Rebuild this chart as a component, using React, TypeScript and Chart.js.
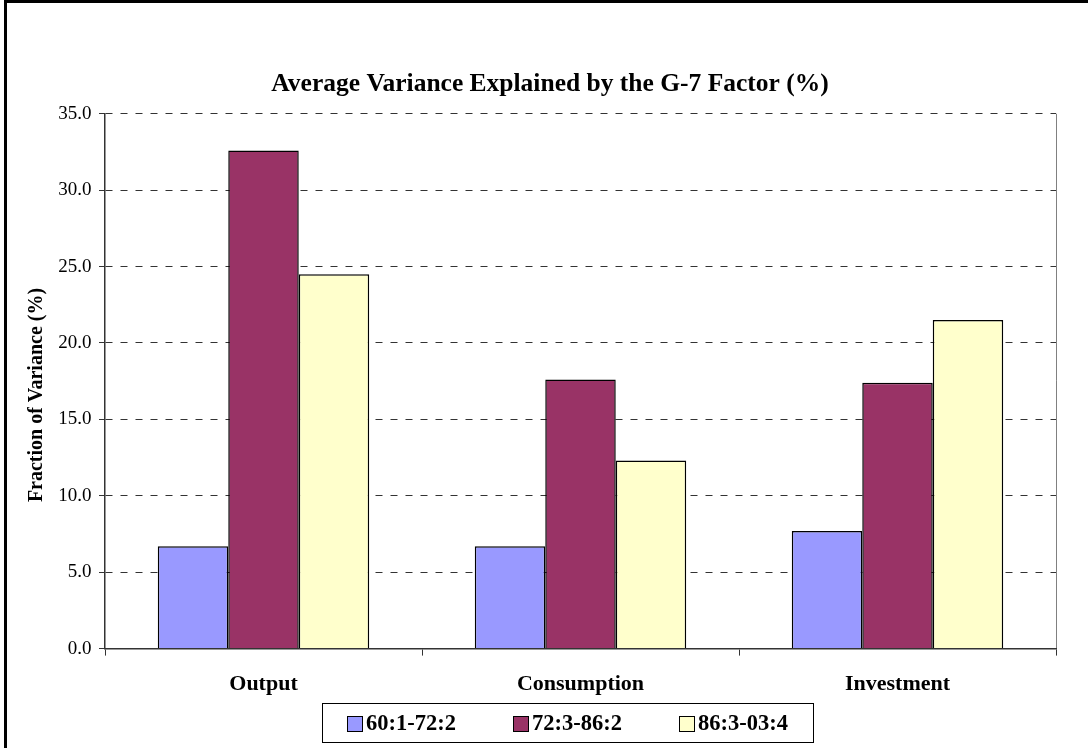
import React, { useEffect, useRef } from "react";
import { Chart, registerables } from "chart.js";

Chart.register(...registerables);

const categories = ["Output", "Consumption", "Investment"];
const seriesLabels = ["60:1-72:2", "72:3-86:2", "86:3-03:4"];
const series1 = [6.7, 6.7, 7.7];
const series2 = [32.6, 17.6, 17.4];
const series3 = [24.5, 12.3, 21.5];
const seriesColors = ["#9999FF", "#993366", "#FFFFCC"];
const chartTitle = "Average Variance Explained by the G-7 Factor (%)";
const yAxisTitle = "Fraction of Variance (%)";
const yMin = 0;
const yMax = 35;
const yStep = 5;

const FONT = "'Liberation Serif', 'Times New Roman', serif";

const decorPlugin = {
  id: "decor",
  beforeDraw(chart: any) {
    const ctx = chart.ctx;
    ctx.save();
    ctx.fillStyle = "#fff";
    ctx.fillRect(0, 0, chart.width, chart.height);
    ctx.fillStyle = "#000";
    ctx.fillRect(4, 0, 3, chart.height);
    ctx.fillRect(4, 0, chart.width - 4, 3);
    ctx.restore();
  },
  afterDraw(chart: any) {
    const ctx = chart.ctx;
    // chart title
    ctx.save();
    ctx.font = `bold 25.5px ${FONT}`;
    ctx.fillStyle = "#000";
    ctx.textAlign = "center";
    ctx.textBaseline = "middle";
    ctx.fillText(chartTitle, 550, 84);
    ctx.restore();

    // y axis title
    ctx.save();
    ctx.translate(37, 395);
    ctx.rotate(-Math.PI / 2);
    ctx.font = `bold 20px ${FONT}`;
    ctx.fillStyle = "#000";
    ctx.textAlign = "center";
    ctx.textBaseline = "middle";
    ctx.fillText(yAxisTitle, 0, 0);
    ctx.restore();

    // legend
    ctx.save();
    ctx.strokeStyle = "#000";
    ctx.lineWidth = 1;
    ctx.strokeRect(322.5, 703.5, 491, 39);
    const xs = [347, 513, 679];
    chart.data.datasets.forEach((ds: any, i: number) => {
      ctx.fillStyle = ds.backgroundColor;
      ctx.fillRect(xs[i], 716, 15, 15);
      ctx.strokeStyle = "#000";
      ctx.strokeRect(xs[i] + 0.5, 716.5, 15, 15);
      ctx.fillStyle = "#000";
      ctx.font = `bold 22.5px ${FONT}`;
      ctx.textAlign = "left";
      ctx.textBaseline = "middle";
      ctx.fillText(ds.label, xs[i] + 19, 724);
    });
    ctx.restore();
  },
};

function App() {
  const ref = useRef<HTMLCanvasElement>(null);
  useEffect(() => {
    if (!ref.current) return;
    const chart = new Chart(ref.current, {
      type: "bar",
      data: {
        labels: categories,
        datasets: [series1, series2, series3].map((d, i) => ({
          label: seriesLabels[i],
          data: d,
          backgroundColor: seriesColors[i],
          borderColor: "#000",
          borderWidth: 1.5,
          barPercentage: 1,
          categoryPercentage: 0.667,
        })),
      },
      options: {
        animation: false,
        responsive: false,
        maintainAspectRatio: false,
        layout: { padding: { left: 0, right: 32, top: 113.7, bottom: 49.4 } },
        plugins: {
          legend: { display: false },
          tooltip: { enabled: false },
          title: { display: false },
        },
        scales: {
          x: {
            grid: {
              offset: true,
              color: (c: any) => (c.index === undefined ? "#808080" : "rgba(0,0,0,0)"),
              tickColor: "#333",
              tickLength: 7,
              lineWidth: 1,
            },
            border: { color: "#333", width: 1.5 },
            ticks: {
              color: "#000",
              font: { family: FONT, size: 22, weight: "bold" },
              padding: 16,
            },
            afterFit: (s: any) => {
              s.height = 50;
            },
          },
          y: {
            min: yMin,
            max: yMax,
            ticks: {
              stepSize: yStep,
              callback: (v: any) => Number(v).toFixed(1),
              color: "#000",
              font: { family: FONT, size: 19 },
              padding: 7.5,
            },
            grid: {
              color: "#333",
              tickColor: "#333",
              tickLength: 6,
              tickBorderDash: [],
              lineWidth: 1,
            },
            border: { color: "#333", width: 1.5, dash: [7, 8] },
            afterFit: (s: any) => {
              s.width = 105;
            },
          },
        },
      },
      plugins: [decorPlugin],
    } as any);
    return () => chart.destroy();
  }, []);
  return (
    <div style={{ position: "fixed", left: 0, top: 0, width: 1088, height: 748, overflow: "hidden" }}>
      <canvas ref={ref} width={1088} height={748} style={{ display: "block", width: 1088, height: 748 }} />
    </div>
  );
}

export default App;
